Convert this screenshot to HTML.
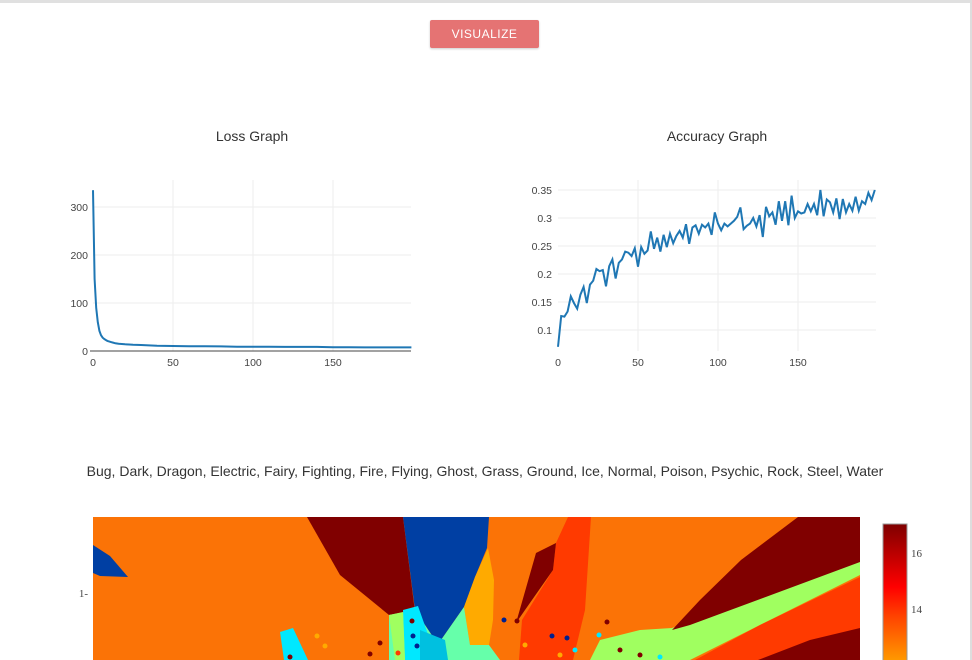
<!DOCTYPE html>
<html><head><meta charset="utf-8"><style>
body{margin:0;width:972px;height:660px;overflow:hidden;background:#fff;font-family:"Liberation Sans",sans-serif;position:relative}
.t{position:absolute;color:#333;font-size:14px;white-space:nowrap;transform:translateX(-50%)}
</style></head><body>
<div style="position:absolute;left:0;top:0;width:972px;height:3px;background:#e0e0e0"></div>
<div style="position:absolute;right:0;top:0;width:2px;height:660px;background:#ddd"></div>
<div style="position:absolute;left:430px;top:20px;width:109px;height:28px;background:#e57373;color:#fff;font-size:12px;line-height:28px;text-align:center;border-radius:2px;box-shadow:0 1px 2px rgba(0,0,0,.2);letter-spacing:.5px">VISUALIZE</div>
<div class="t" style="left:252px;top:128px">Loss Graph</div>
<div class="t" style="left:717px;top:128px">Accuracy Graph</div>
<div class="t" style="left:485px;top:463px">Bug, Dark, Dragon, Electric, Fairy, Fighting, Fire, Flying, Ghost, Grass, Ground, Ice, Normal, Poison, Psychic, Rock, Steel, Water</div>
<svg id="charts" width="972" height="660" style="position:absolute;left:0;top:0" font-family="Liberation Sans, sans-serif" font-size="10.5" fill="#444"></svg>
<svg width="972" height="660" style="position:absolute;left:0;top:0">
<defs><linearGradient id="cb" x1="0" y1="1" x2="0" y2="0"><stop offset="0" stop-color="#ffa000"/><stop offset="0.35" stop-color="#ff4000"/><stop offset="0.55" stop-color="#ff0000"/><stop offset="1" stop-color="#7f0000"/></linearGradient></defs>
<g>
<rect x="93" y="517" width="767" height="143" fill="#fb7306"/>
<polygon points="93,545 93,573 100,576 128,577 110,556" fill="#003fa3"/>
<polygon points="307,517 403,517 415,612 389,615 340,575" fill="#800000"/>
<polygon points="403,517 489,517 487,548 475,577 464,607 441,640 435,640 415,610" fill="#003fa3"/>
<polygon points="488,548 494,580 493,620 489,645 470,645 464,607 475,577" fill="#ffaa00"/>
<polygon points="389,615 415,610 435,640 441,640 464,607 470,645 489,645 500,660 389,660" fill="#66ffaa"/>
<polygon points="403,610 418,606 430,640 422,660 405,660" fill="#00e8ff"/>
<polygon points="420,630 445,640 448,660 420,660" fill="#00c0e0"/>
<polygon points="389,615 403,612 405,660 395,660" fill="#a0ff60"/>
<polygon points="280,632 293,628 308,660 284,660" fill="#00e8ff"/>
<polygon points="568,517 591,517 585,610 573,660 519,660 522,620 553,570 556,543" fill="#ff3a00"/>
<polygon points="556,543 536,553 516,623 525,610 553,570" fill="#800000"/>
<polygon points="860,560 860,575 790,610 730,640 690,660 590,660 600,640 640,630 672,628" fill="#a0ff60"/>
<polygon points="860,577 860,660 695,660 760,625" fill="#ff3a00"/>
<polygon points="798,517 860,517 860,562 690,625 672,630 700,600 741,560" fill="#800000"/>
<polygon points="860,628 860,660 758,660 810,640" fill="#800000"/>
<g>
<circle cx="412" cy="621" r="2.5" fill="#800000"/><circle cx="413" cy="636" r="2.5" fill="#00208f"/><circle cx="417" cy="646" r="2.5" fill="#00208f"/><circle cx="490" cy="608" r="2.5" fill="#ffaa00"/><circle cx="504" cy="620" r="2.5" fill="#00208f"/><circle cx="517" cy="621" r="2.5" fill="#800000"/><circle cx="607" cy="622" r="2.5" fill="#800000"/><circle cx="552" cy="636" r="2.5" fill="#00208f"/><circle cx="567" cy="638" r="2.5" fill="#00208f"/><circle cx="599" cy="635" r="2.5" fill="#00e8ff"/><circle cx="380" cy="643" r="2.5" fill="#800000"/><circle cx="398" cy="653" r="2.5" fill="#ff3a00"/><circle cx="317" cy="636" r="2.5" fill="#ffaa00"/><circle cx="325" cy="646" r="2.5" fill="#ffaa00"/><circle cx="290" cy="657" r="2.5" fill="#800000"/><circle cx="370" cy="654" r="2.5" fill="#800000"/><circle cx="575" cy="650" r="2.5" fill="#00e8ff"/><circle cx="620" cy="650" r="2.5" fill="#800000"/><circle cx="640" cy="655" r="2.5" fill="#800000"/><circle cx="660" cy="657" r="2.5" fill="#00e8ff"/><circle cx="525" cy="645" r="2.5" fill="#ffaa00"/><circle cx="560" cy="655" r="2.5" fill="#ffaa00"/>
</g></g>
<text x="88" y="597" font-family="Liberation Serif, serif" font-size="11" fill="#444" text-anchor="end">1-</text>
<rect x="883" y="524" width="24" height="140" fill="url(#cb)" stroke="#999" stroke-width="1"/>
<g font-family="Liberation Serif, serif" font-size="11" fill="#444"><text x="911" y="557">16</text><text x="911" y="613">14</text></g>
</svg>
<script>
const lossEpochs=[0,1,2,3,4,5,6,7,8,9,10,12,14,16,18,20,25,30,40,50,60,70,80,90,100,110,120,130,140,150,160,170,180,190,199];
const lossValues=[335,150,90,60,42,33,28,25,23,21,20,18,16,15,14.5,14,13,12.5,11,10.5,10,10,9.5,9,9,9,8.5,8.5,8.5,8,8,7.5,7.5,7.5,7.5];
const lossYTicks=[0,100,200,300];
const xTicks=[0,50,100,150];
const accValues=[0.07,0.125,0.124,0.133,0.16,0.148,0.138,0.163,0.177,0.148,0.181,0.188,0.209,0.205,0.207,0.178,0.214,0.226,0.192,0.22,0.226,0.24,0.238,0.232,0.246,0.213,0.248,0.236,0.242,0.276,0.245,0.265,0.24,0.27,0.248,0.272,0.255,0.268,0.277,0.265,0.289,0.254,0.283,0.287,0.272,0.288,0.283,0.29,0.27,0.31,0.29,0.278,0.29,0.285,0.29,0.295,0.302,0.319,0.28,0.286,0.29,0.3,0.285,0.305,0.266,0.32,0.303,0.31,0.288,0.33,0.295,0.33,0.287,0.34,0.3,0.312,0.308,0.31,0.325,0.312,0.325,0.305,0.35,0.303,0.333,0.328,0.31,0.335,0.298,0.334,0.31,0.325,0.313,0.338,0.313,0.33,0.325,0.345,0.332,0.35];
const accEpochStep=2;
const accYTicks=[0.1,0.15,0.2,0.25,0.3,0.35];
const accYLabels=["0.1","0.15","0.2","0.25","0.3","0.35"];

const svg=document.getElementById('charts');
const NS='http://www.w3.org/2000/svg';
function mk(tag,attrs,parent){const e=document.createElementNS(NS,tag);for(const k in attrs)e.setAttribute(k,attrs[k]);(parent||svg).appendChild(e);return e;}

function drawChart(name,x0,xScale,yScale,yTicks,yLabels,xs,ys,zeroLine,top,bottom,right){
  const g=mk('g',{});
  
  
  xTicks.forEach(t=>{
    const x=x0+xScale(t);
    if(t>0){const l=mk('line',{x1:x,x2:x,y1:top,y2:bottom,stroke:'#eee'},g);
      
      }
    const tx=mk('text',{x:x,y:bottom+15,'text-anchor':'middle'},g);tx.textContent=t;
    
    
  });
  yTicks.forEach((t,i)=>{
    const y=yScale(t);
    if(!(zeroLine&&t===0)){const l=mk('line',{x1:x0,x2:right,y1:y,y2:y,stroke:'#eee'},g);
      
      }
    const tx=mk('text',{x:x0-(zeroLine?5:6),y:y+4,'text-anchor':'end'},g);tx.textContent=yLabels[i];
    
    
  });
  if(zeroLine){const z=mk('line',{x1:x0-3,x2:right,y1:yScale(0),y2:yScale(0),stroke:'#444'},g);
    
    }
  const d=xs.map((x,i)=>(i?'L':'M')+(x0+xScale(x)).toFixed(1)+','+yScale(ys[i]).toFixed(1)).join('');
  const p=mk('path',{d:d,fill:'none',stroke:'#1f77b4','stroke-width':2},g);
  
  
}
drawChart('loss-chart',93,v=>v*1.6,v=>351-v*0.48,lossYTicks,lossYTicks.map(String),lossEpochs,lossValues,true,180,351,411);
const accX=accValues.map((v,i)=>i*accEpochStep);
drawChart('accuracy-chart',558,v=>v*1.6,v=>190-(v-0.35)*560,accYTicks,accYLabels,accX,accValues,false,180,351,876);
</script>
</body></html>
